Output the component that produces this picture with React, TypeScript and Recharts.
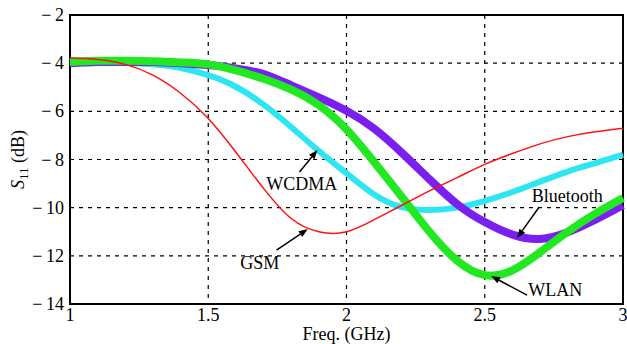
import React from "react";
import {
  CartesianGrid,
  Line,
  LineChart,
  ReferenceArea,
  ReferenceDot,
  ReferenceLine,
  XAxis,
  YAxis,
} from "recharts";

const freq = [1.0, 1.1, 1.2, 1.3, 1.4, 1.5, 1.6, 1.7, 1.8, 1.9, 2.0, 2.1, 2.2, 2.3, 2.4, 2.5, 2.6, 2.7, 2.8, 2.9, 3.0];
const gsm = [-3.78, -3.85, -4.05, -4.5, -5.25, -6.3, -7.7, -9.2, -10.45, -11.0, -11.0, -10.5, -9.9, -9.3, -8.75, -8.2, -7.75, -7.35, -7.05, -6.85, -6.7];
const wcdma = [-4.0, -3.95, -3.98, -4.05, -4.2, -4.5, -4.98, -5.72, -6.65, -7.65, -8.57, -9.45, -9.98, -10.1, -10.0, -9.72, -9.35, -8.92, -8.5, -8.15, -7.8];
const bluetooth = [-4.0, -3.95, -3.95, -3.95, -4.0, -4.08, -4.22, -4.45, -4.92, -5.42, -5.98, -6.72, -7.72, -8.82, -9.85, -10.6, -11.12, -11.3, -11.02, -10.5, -9.9];
const wlan = [-3.95, -3.9, -3.9, -3.92, -3.97, -4.05, -4.3, -4.65, -5.1, -5.75, -6.75, -8.1, -9.55, -11.0, -12.2, -12.8, -12.6, -11.85, -11.0, -10.25, -9.6];

const xTicks = [1, 1.5, 2, 2.5, 3];
const yTicks = [-14, -12, -10, -8, -6, -4, -2];

// annotation labels: [text, textX, textY, tailX, tailY, tipX, tipY]
const notes: [string, number, number, number, number, number, number][] = [
  ["WCDMA", 1.838, -9.02, 1.83, -8.52, 1.895, -7.61],
  ["GSM", 1.686, -12.3, 1.747, -11.76, 1.86, -10.89],
  ["Bluetooth", 2.798, -9.52, 2.697, -9.97, 2.617, -11.26],
  ["WLAN", 2.755, -13.42, 2.653, -13.63, 2.523, -12.84],
];

const FONT = "'Liberation Serif', 'Times New Roman', serif";
const FS = 18;

const toRows = (ys: number[]) => freq.map((f, i) => ({ f, s: ys[i] }));

// matlab style minus, a bit wider
const fmt = (v: number) => (v < 0 ? "\u2212\u2009" + Math.abs(v) : String(v));

function Arrow(props: any) {
  const { x1, y1, x2, y2 } = props;
  const dx = x2 - x1;
  const dy = y2 - y1;
  const len = Math.sqrt(dx * dx + dy * dy) || 1;
  const ux = dx / len;
  const uy = dy / len;
  const hl = 9;
  const hw = 3.5;
  const bx = x2 - ux * hl;
  const by = y2 - uy * hl;
  return (
    <g>
      <line x1={x1} y1={y1} x2={bx} y2={by} stroke="#000" strokeWidth={1.5} />
      <polygon
        points={`${x2},${y2} ${bx - uy * hw},${by + ux * hw} ${bx + uy * hw},${by - ux * hw}`}
        fill="#000"
      />
    </g>
  );
}

const xTick = (props: any) => (
  <text x={props.x} y={props.y + 17} textAnchor="middle" style={{ fontFamily: FONT, fontSize: FS }} fill="#000">
    {fmt(props.payload.value)}
  </text>
);

const yTick = (props: any) => (
  <text x={props.x} y={props.y + 6} textAnchor="end" style={{ fontFamily: FONT, fontSize: FS }} fill="#000">
    {fmt(props.payload.value)}
  </text>
);

function YLabel(props: any) {
  const vb = props.viewBox || { x: 0, y: 15, width: 70, height: 289 };
  const cx = 24;
  const cy = vb.y + vb.height / 2;
  return (
    <text
      transform={`translate(${cx},${cy}) rotate(-90)`}
      textAnchor="middle"
      style={{ fontFamily: FONT, fontSize: FS }}
      fill="#000"
    >
      <tspan fontStyle="italic">S</tspan>
      <tspan fontSize={13} dy={4}>11</tspan>
      <tspan dy={-4}> (dB)</tspan>
    </text>
  );
}

export default function App() {
  return (
    <div style={{ position: "absolute", left: 0, top: 0, background: "#fff" }}>
      <LineChart
        width={627}
        height={344}
        margin={{ top: 15, right: 4, bottom: 0, left: 0 }}
        style={{ fontFamily: FONT }}
      >
        <CartesianGrid stroke="#000" strokeDasharray="4 5" strokeWidth={1.2} />
        <XAxis
          type="number"
          dataKey="f"
          domain={[1, 3]}
          ticks={xTicks}
          allowDuplicatedCategory={false}
          height={40}
          tickLine={false}
          axisLine={false}
          tickSize={0}
          tickMargin={0}
          tick={xTick}
          label={{
            value: "Freq. (GHz)",
            position: "insideBottom",
            offset: 4,
            fill: "#000",
            fontSize: FS,
            fontFamily: FONT,
          }}
        />
        <YAxis
          type="number"
          domain={[-14, -2]}
          ticks={yTicks}
          width={70}
          tickLine={false}
          axisLine={false}
          tickSize={0}
          tickMargin={6}
          tick={yTick}
          label={<YLabel />}
        />
        <ReferenceArea x1={1} x2={3} y1={-14} y2={-2} fill="none" stroke="#000" strokeWidth={2} />
        <Line data={toRows(wcdma)} dataKey="s" type="natural" stroke="#2ee6f2" strokeWidth={6} dot={false} isAnimationActive={false} />
        <Line data={toRows(bluetooth)} dataKey="s" type="natural" stroke="#7b1ff0" strokeWidth={8} dot={false} isAnimationActive={false} />
        <Line data={toRows(wlan)} dataKey="s" type="natural" stroke="#22e822" strokeWidth={8} dot={false} isAnimationActive={false} />
        <Line data={toRows(gsm)} dataKey="s" type="natural" stroke="#ff1010" strokeWidth={1.5} dot={false} isAnimationActive={false} />
        {notes.map(([label, tx, ty, ax, ay, bx, by]) => (
          <ReferenceLine
            key={"a" + label}
            segment={[{ x: ax, y: ay }, { x: bx, y: by }]}
            shape={(p: any) => <Arrow {...p} />}
          />
        ))}
        {notes.map(([label, tx, ty]) => (
          <ReferenceDot
            key={"t" + label}
            x={tx}
            y={ty}
            r={0}
            fill="none"
            stroke="none"
            label={{ value: label, position: "center", fill: "#000", fontSize: FS, fontFamily: FONT }}
          />
        ))}
      </LineChart>
    </div>
  );
}
